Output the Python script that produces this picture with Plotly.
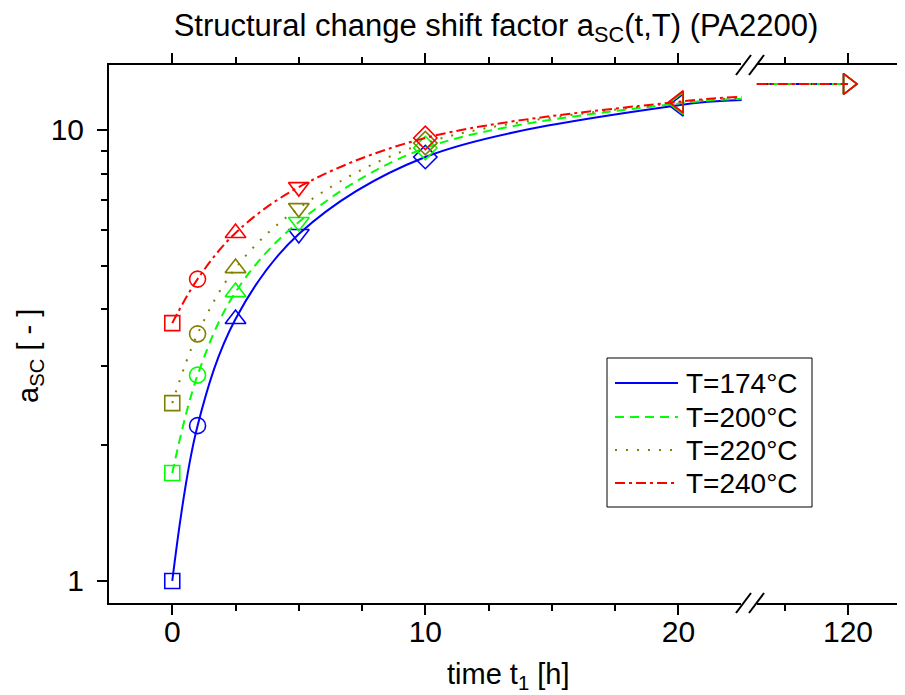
import plotly.graph_objects as go

# ---------------- data ----------------
series_names = ["T=174°C", "T=200°C", "T=220°C", "T=240°C"]
colors = ["#0000FF", "#00FF00", "#808000", "#FF0000"]
dashes = ["solid", "9px,6px", "2px,9px", "10px,4px,3px,4px"]

t_points = [0, 1, 2.5, 5, 10, 20]
point_symbols = ["square-open", "circle-open", "triangle-up-open",
                 "triangle-down-open", "diamond-open", "triangle-left-open"]

a_174 = [1.0, 2.21, 3.81, 5.88, 8.71, 11.35]
a_200 = [1.735, 2.86, 4.37, 6.25, 9.12, 11.45]
a_220 = [2.48, 3.53, 4.94, 6.71, 9.35, 11.5]
a_240 = [3.73, 4.67, 5.91, 7.47, 9.6, 11.55]
series_points = [a_174, a_200, a_220, a_240]

# curve end values at t = 22.5 h
t_curve_end = 22.5
a_curve_end = [11.65, 11.72, 11.78, 11.85]

# long-time plateau (second axis segment)
t_plateau = [116.4, 120]
a_plateau = [12.65, 12.65, 12.65, 12.65]
t_long = 120

x1_ticks = [0, 10, 20]
x1_minor = [2.5, 5, 7.5, 12.5, 15, 17.5]
x2_ticks = [120]
x2_minor = [117.5]
y_ticks = [1, 10]
y_minor = [2, 3, 4, 5, 6, 7, 8, 9]

# ---------------- layout geometry ----------------
OFF = 8                      # page body margin
FW, FH = 905 - OFF, 695 - OFF
ML, MR, MT, MB = 109 - OFF, 0, 65 - OFF, FH - (603 - OFF)
PW = FW - ML - MR
PH = FH - MT - MB
D = (748 - OFF - ML) / PW

FONT = "Liberation Sans, Arial, sans-serif"
marker_sizes = [15, 16, 18, 18, 18, 19]

def px(x):   # screen px -> paper x
    return (x - OFF - ML) / PW

def py(y):   # screen px -> paper y
    return (FH - MB - (y - OFF)) / PH

fig = go.Figure()

for i in range(4):
    ln = dict(color=colors[i], width=2, dash=dashes[i])
    fig.add_trace(go.Scatter(
        x=t_points + [t_curve_end], y=series_points[i] + [a_curve_end[i]],
        mode="lines", line=dict(shape="spline", smoothing=1, **ln),
        name=series_names[i], showlegend=False,
        xaxis="x", yaxis="y"))
    fig.add_trace(go.Scatter(
        x=t_plateau, y=[a_plateau[i]] * 2, mode="lines", line=ln,
        showlegend=False, xaxis="x2", yaxis="y"))
    fig.add_trace(go.Scatter(
        x=t_points, y=series_points[i], mode="markers",
        marker=dict(symbol=point_symbols, size=marker_sizes, color=colors[i],
                    opacity=1, line=dict(color=colors[i], width=1.6)),
        showlegend=False, xaxis="x", yaxis="y"))
    fig.add_trace(go.Scatter(
        x=[t_long], y=[a_plateau[i]], mode="markers",
        marker=dict(symbol="triangle-right-open", size=18, color=colors[i],
                    opacity=1, line=dict(color=colors[i], width=1.6)),
        showlegend=False, xaxis="x2", yaxis="y"))

axis_common = dict(
    showline=True, linecolor="black", linewidth=2, mirror="ticks",
    ticks="outside", ticklen=10, tickwidth=1.5, tickcolor="black",
    showgrid=False, zeroline=False, ticklabelstandoff=-9,
    tickfont=dict(family=FONT, size=30, color="black"),
)

fig.update_layout(
    width=FW, height=FH,
    margin=dict(l=ML, r=MR, t=MT, b=MB),
    paper_bgcolor="white", plot_bgcolor="white",
    font=dict(family=FONT, color="black"),
    title=dict(text="Structural change shift factor a<sub>SC</sub>(t,T) (PA2200)",
               x=(496 - OFF) / FW, xanchor="center", xref="container",
               y=1 - (25 - OFF) / FH, yanchor="middle", yref="container",
               font=dict(family=FONT, size=31, color="black")),
    xaxis=dict(domain=[0, D], range=[-2.5, 22.75], tickmode="array",
               tickvals=x1_ticks, anchor="y",
               minor=dict(tickmode="array", tickvals=x1_minor, ticks="outside",
                          ticklen=6, tickwidth=1.5, tickcolor="black"),
               **axis_common),
    xaxis2=dict(domain=[D, 1], range=[116.05, 122.25], tickmode="array",
                tickvals=x2_ticks, anchor="y",
                minor=dict(tickmode="array", tickvals=x2_minor, ticks="outside",
                           ticklen=6, tickwidth=1.5, tickcolor="black"),
                **axis_common),
    yaxis=dict(type="log", range=[-0.0488, 1.144], tickmode="array",
               tickvals=y_ticks, ticktext=["1", "10"], anchor="x",
               showline=True, linecolor="black", linewidth=2, mirror=False,
               ticks="outside", ticklen=10, tickwidth=1.5, tickcolor="black",
               showgrid=False, zeroline=False, ticklabelstandoff=7,
               tickfont=dict(family=FONT, size=30, color="black"),
               minor=dict(tickmode="array", tickvals=y_minor, ticks="outside",
                          ticklen=6, tickwidth=1.5, tickcolor="black")),
    showlegend=False,
)

# axis titles
fig.add_annotation(text="time t<sub>1</sub> [h]", xref="paper", yref="paper",
                   x=px(509), y=py(676), xanchor="center", yanchor="middle",
                   showarrow=False, font=dict(family=FONT, size=29, color="black"))
fig.add_annotation(text="a<sub>SC</sub> [ - ]", xref="paper", yref="paper",
                   x=px(30), y=py(356), xanchor="center", yanchor="middle",
                   textangle=-90, showarrow=False,
                   font=dict(family=FONT, size=29, color="black"))

# legend box (drawn manually to match the long line samples)
fig.add_shape(type="rect", xref="paper", yref="paper",
              x0=px(607), x1=px(812), y0=py(507), y1=py(358),
              line=dict(color="black", width=1), fillcolor="white", layer="above")
legend_rows = [383, 417, 450, 483]
for i in range(4):
    fig.add_shape(type="line", xref="paper", yref="paper",
                  x0=px(615), x1=px(678), y0=py(legend_rows[i]), y1=py(legend_rows[i]),
                  line=dict(color=colors[i], width=2, dash=dashes[i]), layer="above")
    fig.add_annotation(text=series_names[i], xref="paper", yref="paper",
                       x=px(684), y=py(legend_rows[i]), xanchor="left", yanchor="middle",
                       showarrow=False, font=dict(family=FONT, size=28, color="black"))

# axis break marks (top and bottom)
for yc in (65, 603):
    fig.add_shape(type="line", xref="paper", yref="paper",
                  x0=px(741), x1=px(757), y0=py(yc), y1=py(yc),
                  line=dict(color="white", width=4), layer="above")
    for x0 in (736, 749):
        fig.add_shape(type="line", xref="paper", yref="paper",
                      x0=px(x0), y0=py(yc + 10), x1=px(x0 + 15), y1=py(yc - 10),
                      line=dict(color="black", width=2), layer="above")

fig.write_html("out.html")
